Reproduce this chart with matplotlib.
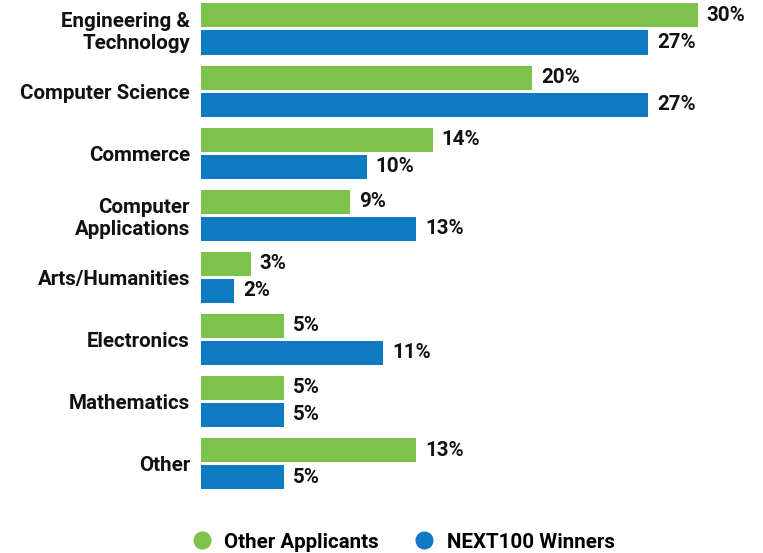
import numpy as np
import matplotlib.pyplot as plt
from matplotlib.lines import Line2D

categories = ["Engineering &\nTechnology", "Computer Science", "Commerce",
              "Computer\nApplications", "Arts/Humanities", "Electronics",
              "Mathematics", "Other"]
other_applicants = [30, 20, 14, 9, 3, 5, 5, 13]
next100_winners = [27, 27, 10, 13, 2, 11, 5, 5]

GREEN = "#7DC24B"
BLUE = "#0E7AC2"
FS = 14.8

plt.rcParams["font.family"] = ["Roboto", "DejaVu Sans"]

fig = plt.figure(figsize=(7.63, 5.53), dpi=100)
ax = fig.add_axes([201 / 763, (553 - 495) / 553, (745 - 201) / 763, 495 / 553])

y = np.arange(len(categories))
h = 0.387
off = 0.2175
ax.barh(y - off, other_applicants, height=h, color=GREEN)
ax.barh(y + off, next100_winners, height=h, color=BLUE)

for yi, v in zip(y - off, other_applicants):
    ax.text(v + 0.55, yi, f"{v}%", va="center", ha="left", fontsize=FS,
            fontweight="bold", color="#111111")
for yi, v in zip(y + off, next100_winners):
    ax.text(v + 0.55, yi, f"{v}%", va="center", ha="left", fontsize=FS,
            fontweight="bold", color="#111111")

ax.set_xlim(0, (745 - 201) / 16.55)
ax.set_ylim(7.507, -0.467)
ax.set_yticks(y)
ax.set_yticklabels(categories, fontsize=FS, fontweight="bold",
                   color="#111111", linespacing=1.2)
ax.tick_params(axis="y", length=0, pad=8)
ax.set_xticks([])
for s in ax.spines.values():
    s.set_visible(False)

handles = [
    Line2D([], [], marker="o", linestyle="none", markersize=12,
           markerfacecolor=GREEN, markeredgecolor=GREEN, label="Other Applicants"),
    Line2D([], [], marker="o", linestyle="none", markersize=12,
           markerfacecolor=BLUE, markeredgecolor=BLUE, label="NEXT100 Winners"),
]
fig.legend(handles=handles, loc="center", bbox_to_anchor=(398 / 763, 1 - 542 / 553),
           ncol=2, frameon=False, handletextpad=0.1, columnspacing=1.2,
           prop={"size": FS, "weight": "bold"})

fig.savefig("out.png", dpi=100)
